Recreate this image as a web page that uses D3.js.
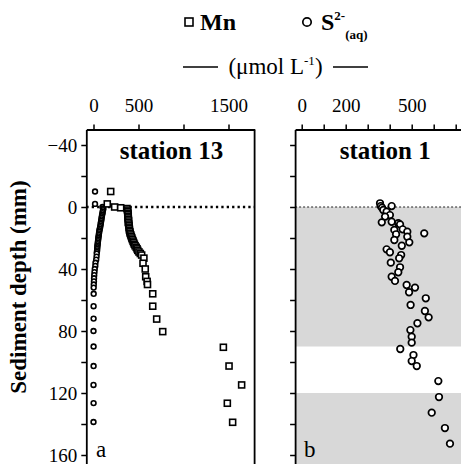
<!DOCTYPE html>
<html>
<head>
<meta charset="utf-8">
<script src="https://cdn.jsdelivr.net/npm/d3@7"></script>
<style>
  html, body { margin: 0; padding: 0; background: #fff; }
  svg { display: block; }
  svg text { font-family: "Liberation Serif", "Times New Roman", "DejaVu Serif", serif; fill: #000; }
</style>
</head>
<body>
<div id="chart"></div>
<script>
// Station 13: dissolved sulfide (µmol L-1) by depth (mm)
const st13SulfideDepth = [-10, -2, 0, 1, 2, 3, 4, 5, 6, 7, 8, 9, 10, 11, 12, 13, 14, 15, 16, 17, 18, 19, 20,
  21, 22, 23, 24, 25, 26, 27, 28, 29, 30, 32, 34, 36, 38, 40, 42, 44, 46, 48, 50, 52, 56, 64, 72, 80, 90, 102.6, 114.8, 126.5, 138.7];
const st13Sulfide = [17, 17, 100, 110, 106, 102, 100, 96, 93, 90, 88, 85, 82, 80, 77, 74, 70, 66, 64, 61, 59, 56, 54,
  52, 50, 48, 46, 44, 42, 41, 40, 38, 36, 34, 30, 22, 20, 14, 11, 8, 6, 5, 3, 2, 2, 1, 1, 0, 1, 1, 0, 1, 0];

// Station 13: dissolved Mn (µmol L-1) by depth (mm)
const st13MnDepth = [-10, -2, 0, 0.5, 1, 2, 3, 4, 5, 6, 7, 8, 9, 10, 11, 12, 13, 14, 15, 16, 17, 18, 19, 20,
  21, 22, 23, 24, 25, 26, 27, 28, 29, 30, 31, 33, 36.3, 40, 45, 48, 50, 56, 64, 72.3, 80.4, 90.5, 102.6, 114.8, 126.6, 138.9];
const st13Mn = [191, 153, 235, 302, 372, 378, 380, 384, 382, 386, 384, 388, 390, 386, 392, 394, 396, 398, 400, 404, 408, 414, 420, 426,
  432, 440, 446, 454, 462, 475, 484, 492, 505, 520, 535, 560, 550, 575, 580, 596, 600, 658, 658, 702, 769, 1443, 1506, 1646, 1487, 1546];

// Station 1: dissolved sulfide (µmol L-1) by depth (mm)
const st1SulfideDepth = [-2.4, -0.6, -0.6, 0.5, 1.9, 3, 5.2, 6.2, 9.9, 9.5, 10.5, 11.2, 14.8, 14.4, 15.9, 17, 17.6, 19.2, 21.3, 22.8,
  25, 27.3, 29.2, 31, 33.1, 35.9, 38.9, 42.1, 45, 47.7, 50.3, 52, 55, 58.9, 63.2, 67.1, 71.2, 75, 79.4, 83.7, 87.5, 91.6,
  95.5, 99.4, 102.6, 112.3, 122.6, 132.7, 142.6, 152.7];
const st1Sulfide = [356, 359, 409, 365, 371, 386, 401, 379, 364, 409, 439, 447, 421, 459, 480, 557, 429, 480, 421, 489,
  455, 386, 401, 452, 443, 405, 447, 439, 409, 424, 477, 515, 488, 564, 495, 560, 577, 526, 494, 500, 500, 448,
  508, 500, 523, 621, 624, 591, 651, 674];

// Station 1 shaded depth intervals (mm)
const st1ShadedFrom = [0, 120];
const st1ShadedTo = [90, 175];

// Axis ticks
const depthTicks = [-40, -20, 0, 20, 40, 60, 80, 100, 120, 140, 160];
const depthLabelTicks = [-40, 0, 40, 80, 120, 160];
const mnTicks = [0, 500, 1000, 1500];
const mnLabelTicks = [0, 500, 1500];
const sulfideTicks = [0, 100, 200, 300, 400, 500, 600, 700];
const sulfideLabelTicks = [0, 200, 500];

const SERIF = "'Liberation Serif', 'Times New Roman', 'DejaVu Serif', serif";
const W = 461, H = 464;
const svg = d3.select("#chart").append("svg").attr("width", W).attr("height", H)
  .attr("font-family", SERIF);

// Shared depth scale
const y = d3.scaleLinear().domain([-50, 170]).range([129.5, 470.5]);
// Panel a (station 13) concentration scale
const xA = d3.scaleLinear().domain([-80, 1790]).range([86.3, 254.6]);
// Panel b (station 1) concentration scale
const xB = d3.scaleLinear().domain([-30, 780]).range([295.1, 473.3]);

const plotTop = y.range()[0];
const fmtMinus = d => (d < 0 ? "\u2212" + Math.abs(d) : String(d));

function styleAxis(g) {
  g.attr("font-family", SERIF).attr("font-size", 19);
  g.selectAll("path.domain").attr("stroke", "#000").attr("stroke-width", 1.8);
  g.selectAll(".tick line").attr("stroke", "#000").attr("stroke-width", 1.5);
  g.selectAll(".tick text").attr("fill", "#000").attr("font-family", SERIF).attr("font-size", 19);
}

// ---- Panel b background shading ----
svg.append("g").selectAll("rect").data(st1ShadedFrom).join("rect")
  .attr("x", xB.range()[0])
  .attr("y", d => y(d))
  .attr("width", xB.range()[1] - xB.range()[0])
  .attr("height", (d, i) => y(st1ShadedTo[i]) - y(d))
  .attr("fill", "#d8d8d8");

// ---- zero-depth reference lines ----
svg.append("line")
  .attr("x1", xA.range()[0]).attr("x2", xA.range()[1])
  .attr("y1", y(0)).attr("y2", y(0))
  .attr("stroke", "#000").attr("stroke-width", 2.4).attr("stroke-dasharray", "2.3,3.1");
svg.append("line")
  .attr("x1", xB.range()[0]).attr("x2", xB.range()[1])
  .attr("y1", y(0)).attr("y2", y(0))
  .attr("stroke", "#222").attr("stroke-width", 1.2).attr("stroke-dasharray", "2,2");

// ---- Panel a axes ----
const axLeftA = svg.append("g").attr("transform", `translate(${xA.range()[0]},0)`)
  .call(d3.axisLeft(y).tickValues(depthTicks).tickSize(5).tickSizeOuter(0).tickPadding(4)
    .tickFormat(d => depthLabelTicks.includes(d) ? fmtMinus(d) : ""));
styleAxis(axLeftA);

const axTopA = svg.append("g").attr("transform", `translate(0,${plotTop})`)
  .call(d3.axisTop(xA).tickValues(mnTicks).tickSize(5).tickSizeOuter(0).tickPadding(13)
    .tickFormat(d => mnLabelTicks.includes(d) ? String(d) : ""));
styleAxis(axTopA);

svg.append("line")
  .attr("x1", xA.range()[1]).attr("x2", xA.range()[1])
  .attr("y1", plotTop).attr("y2", H + 10)
  .attr("stroke", "#000").attr("stroke-width", 1.8);

// ---- Panel b axes ----
const axLeftB = svg.append("g").attr("transform", `translate(${xB.range()[0]},0)`)
  .call(d3.axisLeft(y).tickValues(depthTicks).tickSize(5).tickSizeOuter(0).tickFormat(""));
styleAxis(axLeftB);

const axTopB = svg.append("g").attr("transform", `translate(0,${plotTop})`)
  .call(d3.axisTop(xB).tickValues(sulfideTicks).tickSize(5).tickSizeOuter(0).tickPadding(13)
    .tickFormat(d => sulfideLabelTicks.includes(d) ? String(d) : ""));
styleAxis(axTopB);

// ---- Panel a data: sulfide circles, then Mn squares ----
svg.append("g").selectAll("circle").data(st13Sulfide).join("circle")
  .attr("cx", d => xA(d))
  .attr("cy", (d, i) => y(st13SulfideDepth[i]))
  .attr("r", 2.4)
  .attr("fill", "#fff").attr("stroke", "#000").attr("stroke-width", 1.6);

const sq = 6;
svg.append("g").selectAll("rect").data(st13Mn).join("rect")
  .attr("x", d => xA(d) - sq / 2)
  .attr("y", (d, i) => y(st13MnDepth[i]) - sq / 2)
  .attr("width", sq).attr("height", sq)
  .attr("fill", "#fff").attr("stroke", "#000").attr("stroke-width", 1.6);

// ---- Panel b data ----
svg.append("g").selectAll("circle").data(st1Sulfide).join("circle")
  .attr("cx", d => xB(d))
  .attr("cy", (d, i) => y(st1SulfideDepth[i]))
  .attr("r", 3.3)
  .attr("fill", "#fff").attr("stroke", "#000").attr("stroke-width", 1.7);

// ---- Panel titles and letters ----
svg.append("text").attr("x", (xA.range()[0] + xA.range()[1]) / 2 + 1).attr("y", 159)
  .attr("text-anchor", "middle").attr("font-weight", "bold").attr("font-size", 25).text("station 13");
svg.append("text").attr("x", (xB.range()[0] + xB.range()[1]) / 2 + 1).attr("y", 159)
  .attr("text-anchor", "middle").attr("font-weight", "bold").attr("font-size", 25).text("station 1");
svg.append("text").attr("x", 96).attr("y", 457).attr("font-size", 23).text("a");
svg.append("text").attr("x", 304).attr("y", 457).attr("font-size", 23).text("b");

// ---- Depth axis title ----
svg.append("text")
  .attr("transform", "translate(26,287) rotate(-90)")
  .attr("text-anchor", "middle").attr("font-weight", "bold").attr("font-size", 23)
  .text("Sediment depth (mm)");

// ---- Legend ----
const lg = svg.append("g");
lg.append("rect").attr("x", 185).attr("y", 18).attr("width", 8).attr("height", 8)
  .attr("fill", "#fff").attr("stroke", "#000").attr("stroke-width", 1.6);
lg.append("text").attr("x", 200).attr("y", 30).attr("font-weight", "bold").attr("font-size", 24).text("Mn");
lg.append("circle").attr("cx", 307).attr("cy", 22).attr("r", 4.2)
  .attr("fill", "#fff").attr("stroke", "#000").attr("stroke-width", 1.7);
const sLabel = lg.append("text").attr("x", 321).attr("y", 30).attr("font-weight", "bold").attr("font-size", 24);
sLabel.append("tspan").text("S");
sLabel.append("tspan").attr("font-size", 13).attr("dy", -10).text("2-");
sLabel.append("tspan").attr("font-size", 13).attr("dy", 19).text("(aq)");

lg.append("line").attr("x1", 183).attr("x2", 218).attr("y1", 67).attr("y2", 67)
  .attr("stroke", "#000").attr("stroke-width", 1.3);
lg.append("line").attr("x1", 333).attr("x2", 368).attr("y1", 67).attr("y2", 67)
  .attr("stroke", "#000").attr("stroke-width", 1.3);
const unit = lg.append("text").attr("x", 275.5).attr("y", 74).attr("text-anchor", "middle").attr("font-size", 23);
unit.append("tspan").text("(\u03bcmol L");
unit.append("tspan").attr("font-size", 13).attr("dy", -9).text("-1");
unit.append("tspan").attr("dy", 9).text(")");
</script>
</body>
</html>
